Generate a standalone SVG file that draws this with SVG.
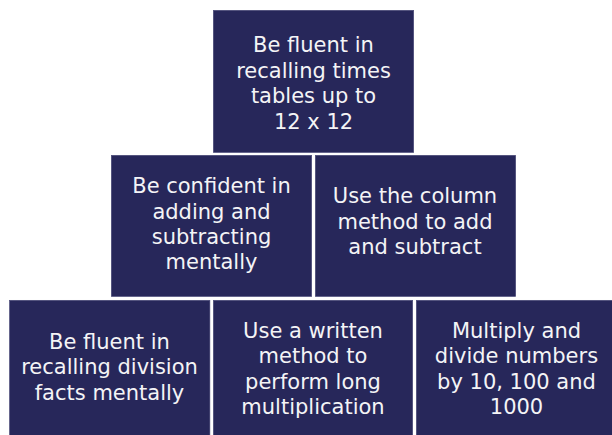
<svg xmlns="http://www.w3.org/2000/svg" width="612" height="435" viewBox="0 0 612 435">
<style>
.box{fill:#27275a;stroke:#4a4a78;stroke-width:0.6}
.t{font-family:"DejaVu Sans",sans-serif;font-size:21px;fill:#f4f4f6;text-anchor:middle}
</style>
<rect width="612" height="435" fill="#ffffff"/>
<g id="connectors"></g>
<g id="n1">
<rect class="box" x="213.3" y="10.3" width="200.4" height="142.2"/>
<text class="t"><tspan x="313.5" y="52">Be fluent in</tspan><tspan x="313.5" y="77.5">recalling times</tspan><tspan x="313.5" y="103">tables up to</tspan><tspan x="313.5" y="128.5">12 x 12</tspan></text>
</g>
<g id="n2">
<rect class="box" x="111.3" y="155.3" width="200.4" height="141.2"/>
<text class="t"><tspan x="211.5" y="193">Be confident in</tspan><tspan x="211.5" y="218.5">adding and</tspan><tspan x="211.5" y="244">subtracting</tspan><tspan x="211.5" y="269">mentally</tspan></text>
</g>
<g id="n3">
<rect class="box" x="315.3" y="155.3" width="200.4" height="141.2"/>
<text class="t"><tspan x="415" y="203">Use the column</tspan><tspan x="415" y="228.5">method to add</tspan><tspan x="415" y="254">and subtract</tspan></text>
</g>
<g id="n4">
<rect class="box" x="9.5" y="300.3" width="200.4" height="135"/>
<text class="t"><tspan x="109.5" y="348.5">Be fluent in</tspan><tspan x="109.5" y="374">recalling division</tspan><tspan x="109.5" y="399.5">facts mentally</tspan></text>
</g>
<g id="n5">
<rect class="box" x="213.3" y="300.3" width="199.4" height="135"/>
<text class="t"><tspan x="313" y="337.5">Use a written</tspan><tspan x="313" y="363">method to</tspan><tspan x="313" y="388.5">perform long</tspan><tspan x="313" y="414">multiplication</tspan></text>
</g>
<g id="n6">
<rect class="box" x="416.3" y="300.3" width="200" height="135"/>
<text class="t"><tspan x="516.5" y="337.5">Multiply and</tspan><tspan x="516.5" y="363">divide numbers</tspan><tspan x="516.5" y="388.5">by 10, 100 and</tspan><tspan x="516.5" y="414">1000</tspan></text>
</g>
</svg>
